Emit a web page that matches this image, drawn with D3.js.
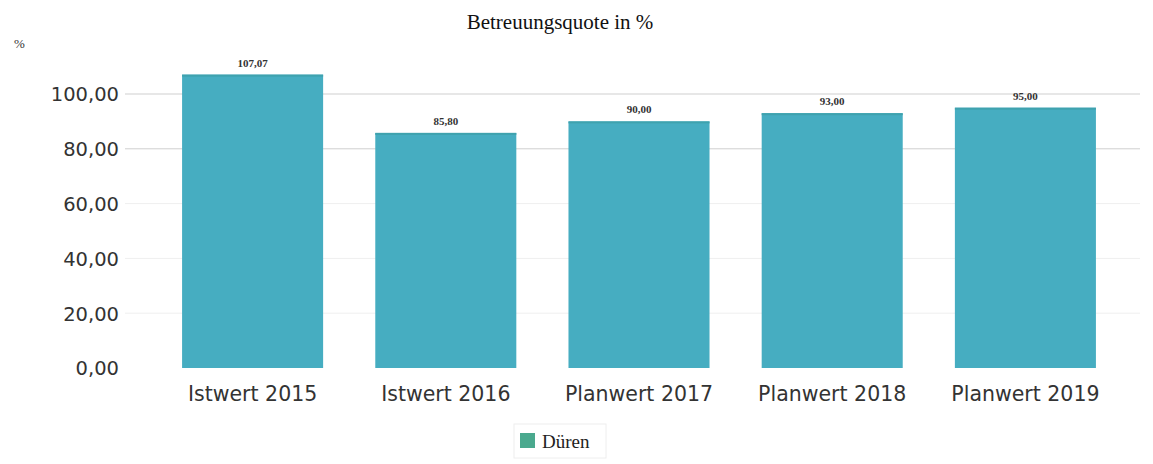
<!DOCTYPE html>
<html>
<head>
<meta charset="utf-8">
<script src="https://cdn.jsdelivr.net/npm/d3@7"></script>
<style>
  body { margin: 0; background: #fff; }
  .tick text { font-family: "DejaVu Sans", Verdana, sans-serif; fill: #333; }
</style>
</head>
<body>
<div id="plot"></div>
<script>
const FRAME_WIDTH = 1153;
const FRAME_HEIGHT = 464;

const categories = ["Istwert 2015", "Istwert 2016", "Planwert 2017", "Planwert 2018", "Planwert 2019"];
const values = [107.07, 85.80, 90.00, 93.00, 95.00];
const yTicks = [0, 20, 40, 60, 80, 100];
const seriesName = "Düren";

const fmt = (d) => d.toFixed(2).replace(".", ",");

const FRAME = d3.select("#plot")
  .append("svg")
    .attr("width", FRAME_WIDTH)
    .attr("height", FRAME_HEIGHT);

// y: 0 -> 368, 100 -> 94
const Y_SCALE = d3.scaleLinear()
  .domain([0, 100])
  .range([368, 94]);

const X_SCALE = d3.scaleBand()
  .domain(categories)
  .range([156, 1122])
  .paddingInner(0.27)
  .paddingOuter(0.135);

// grid
FRAME.append("g")
  .selectAll("line")
  .data(yTicks.filter(d => d > 0))
  .enter()
  .append("line")
    .attr("x1", 125)
    .attr("x2", 1140)
    .attr("y1", d => Y_SCALE(d))
    .attr("y2", d => Y_SCALE(d))
    .attr("stroke", d => d >= 80 ? "#cfcfcf" : "#efefef")
    .attr("stroke-width", 1);

// y axis labels
const yAxis = FRAME.append("g")
  .attr("transform", "translate(119,0)")
  .call(d3.axisLeft(Y_SCALE).tickValues(yTicks).tickFormat(fmt).tickSize(0).tickPadding(0));
yAxis.select(".domain").remove();
yAxis.selectAll("text").attr("font-size", "19.5px").attr("dy", "0.35em");

// bars
FRAME.selectAll(".bar")
  .data(values)
  .enter()
  .append("rect")
    .attr("x", (d, i) => X_SCALE(categories[i]))
    .attr("y", d => Y_SCALE(d))
    .attr("width", X_SCALE.bandwidth())
    .attr("height", d => Y_SCALE(0) - Y_SCALE(d))
    .attr("fill", "#46adc1");

// darker top edge
FRAME.selectAll(".edge")
  .data(values)
  .enter()
  .append("rect")
    .attr("x", (d, i) => X_SCALE(categories[i]))
    .attr("y", d => Y_SCALE(d))
    .attr("width", X_SCALE.bandwidth())
    .attr("height", 2)
    .attr("fill", "#3fa2ae");

// value labels
FRAME.selectAll(".val")
  .data(values)
  .enter()
  .append("text")
    .attr("x", (d, i) => X_SCALE(categories[i]) + X_SCALE.bandwidth() / 2)
    .attr("y", d => Y_SCALE(d) - 8)
    .attr("text-anchor", "middle")
    .attr("font-family", "Liberation Serif, serif")
    .attr("font-weight", "bold")
    .attr("font-size", "11px")
    .attr("fill", "#333")
    .text(d => fmt(d));

// x axis labels
const xAxis = FRAME.append("g")
  .attr("transform", "translate(0,380)")
  .call(d3.axisBottom(X_SCALE).tickSize(0).tickPadding(0));
xAxis.select(".domain").remove();
xAxis.selectAll("text").attr("font-size", "20.5px").attr("dy", "1em");

// title
FRAME.append("text")
  .attr("x", 560)
  .attr("y", 29)
  .attr("text-anchor", "middle")
  .attr("font-family", "Liberation Serif, serif")
  .attr("font-size", "21px")
  .attr("fill", "#111")
  .text("Betreuungsquote in %");

// unit label
FRAME.append("text")
  .attr("x", 14)
  .attr("y", 48)
  .attr("font-family", "Liberation Serif, serif")
  .attr("font-size", "13px")
  .attr("fill", "#333")
  .text("%");

// legend
const LEG = FRAME.append("g").attr("transform", "translate(514,424)");
LEG.append("rect")
  .attr("width", 92).attr("height", 34)
  .attr("fill", "none").attr("stroke", "#eee");
LEG.append("rect")
  .attr("x", 6).attr("y", 9).attr("width", 15).attr("height", 15)
  .attr("fill", "#4aa98e");
LEG.append("text")
  .attr("x", 28).attr("y", 24)
  .attr("font-family", "Liberation Serif, serif")
  .attr("font-size", "19px")
  .attr("fill", "#222")
  .text(seriesName);
</script>
</body>
</html>
